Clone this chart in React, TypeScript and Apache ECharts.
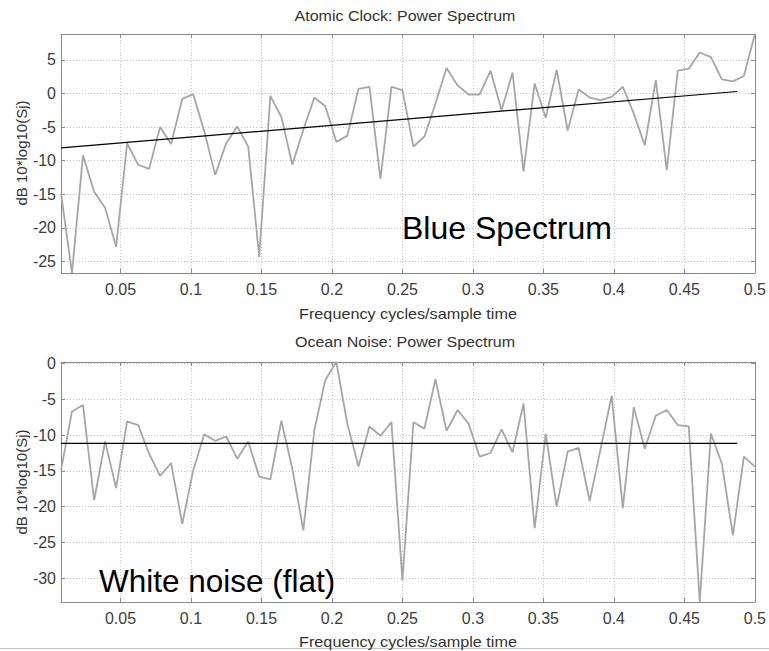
import React, { useEffect, useRef } from "react";
import * as echarts from "echarts";

// Frequency grid (cycles / sample time)
const freqs = [
  0.0078, 0.0156, 0.0234, 0.0313, 0.0391, 0.0469, 0.0547, 0.0625,
  0.0703, 0.0781, 0.0859, 0.0938, 0.1016, 0.1094, 0.1172, 0.125,
  0.1328, 0.1406, 0.1484, 0.1563, 0.1641, 0.1719, 0.1797, 0.1875,
  0.1953, 0.2031, 0.2109, 0.2188, 0.2266, 0.2344, 0.2422, 0.25,
  0.2578, 0.2656, 0.2734, 0.2813, 0.2891, 0.2969, 0.3047, 0.3125,
  0.3203, 0.3281, 0.3359, 0.3438, 0.3516, 0.3594, 0.3672, 0.375,
  0.3828, 0.3906, 0.3984, 0.4063, 0.4141, 0.4219, 0.4297, 0.4375,
  0.4453, 0.4531, 0.4609, 0.4688, 0.4766, 0.4844, 0.4922, 0.5,
];

// Atomic clock power spectrum (dB)
const atomicDb = [
  -14.9, -26.7, -9.2, -14.6, -17.0, -22.8, -7.4, -10.6,
  -11.2, -5.0, -7.5, -0.8, -0.1, -5.6, -12.1, -7.4,
  -4.9, -7.9, -24.3, -0.35, -3.5, -10.6, -5.4, -0.6,
  -1.9, -7.2, -6.3, 0.7, 1.0, -12.7, 1.0, 0.5,
  -7.9, -6.4, -1.5, 3.8, 1.2, -0.15, -0.15, 3.4,
  -2.5, 3.1, -11.6, 1.5, -3.6, 3.5, -5.5, 0.6,
  -0.6, -1.0, -0.5, 1.0, -3.0, -7.7, 2.0, -11.4,
  3.4, 3.7, 6.1, 5.4, 2.1, 1.8, 2.6, 8.85,
];

// Ocean noise power spectrum (dB)
const oceanDb = [
  -14.9, -6.7, -5.8, -19.1, -10.9, -17.4, -8.1, -8.6,
  -12.6, -15.7, -13.9, -22.4, -14.9, -9.9, -10.8, -10.2,
  -13.3, -10.9, -15.8, -16.2, -8.0, -14.7, -23.3, -9.3,
  -2.3, 0.2, -8.4, -14.4, -8.8, -10.1, -8.2, -30.3,
  -8.2, -9.1, -2.2, -9.4, -6.5, -8.4, -13.0, -12.5,
  -9.2, -12.4, -5.6, -23.0, -9.8, -20.0, -12.3, -11.8,
  -19.2, -11.9, -4.5, -20.2, -6.1, -11.9, -7.3, -6.5,
  -8.6, -8.8, -33.3, -9.8, -14.0, -24.0, -13.0, -14.4,
];

// Fitted trend lines [freq, dB]
const atomicTrend = [
  [0.0078, -8.1],
  [0.4875, 0.3],
];
const oceanTrend = [
  [0.0078, -11.15],
  [0.4875, -11.15],
];

const xTickStep = 0.05;
const yTickStep = 5;

const titles = ["Atomic Clock: Power Spectrum", "Ocean Noise: Power Spectrum"];
const xName = "Frequency cycles/sample time";
const yName = "dB 10*log10(Sj)";
const notes = ["Blue Spectrum", "White noise (flat)"];

const FONT = "'Liberation Sans', Arial, Helvetica, sans-serif";
const FRAME = "#8a8a8a";
const GRIDC = "#c2c2c2";
const LABELC = "#3c3c3c";

function stepFormatter(step: number, digits: number) {
  return (v: number) => {
    const r = v / step;
    if (Math.abs(r - Math.round(r)) > 1e-6) return "";
    return String(parseFloat(v.toFixed(digits)));
  };
}

export default function App() {
  const ref = useRef<HTMLDivElement>(null);

  useEffect(() => {
    document.body.style.margin = "0";
    const chart = echarts.init(ref.current!, null, { renderer: "svg" });

    const yRanges = [
      [Math.min(...atomicDb), Math.max(...atomicDb)],
      [Math.min(...oceanDb), Math.max(...oceanDb)],
    ];

    const xMin = freqs[0];
    const xMax = freqs[freqs.length - 1];

    const makeX = (gi: number, main: boolean) => ({
      type: "value",
      gridIndex: gi,
      position: main ? "bottom" : "top",
      min: xMin,
      max: xMax,
      splitNumber: 10,
      axisLine: { show: true, onZero: false, lineStyle: { color: FRAME, width: 1 } },
      axisTick: { show: true, inside: true, length: 4, lineStyle: { color: FRAME, width: 1 } },
      axisLabel: {
        show: main,
        margin: 8,
        fontSize: 16,
        fontFamily: FONT,
        color: LABELC,
        formatter: stepFormatter(xTickStep, 2),
      },
      splitLine: {
        show: main,
        lineStyle: { color: GRIDC, width: 1, type: [1, 2] },
      },
    });

    const makeY = (gi: number, main: boolean) => ({
      type: "value",
      gridIndex: gi,
      position: main ? "left" : "right",
      min: yRanges[gi][0],
      max: yRanges[gi][1],
      splitNumber: 7,
      axisLine: { show: true, onZero: false, lineStyle: { color: FRAME, width: 1 } },
      axisTick: { show: true, inside: true, length: 4, lineStyle: { color: FRAME, width: 1 } },
      axisLabel: {
        show: main,
        margin: 5,
        fontSize: 16,
        fontFamily: FONT,
        color: LABELC,
        formatter: stepFormatter(yTickStep, 0),
      },
      splitLine: {
        show: main,
        lineStyle: { color: GRIDC, width: 1, type: [1, 2] },
      },
    });

    const spectrumSeries = (gi: number, vals: number[]) => ({
      type: "line",
      xAxisIndex: gi,
      yAxisIndex: gi,
      data: freqs.map((f, i) => [f, vals[i]]),
      symbol: "none",
      showSymbol: false,
      silent: true,
      lineStyle: { color: "#a6a6a6", width: 1.8 },
      z: 3,
    });

    const trendSeries = (gi: number, pts: number[][]) => ({
      type: "line",
      xAxisIndex: gi,
      yAxisIndex: gi,
      data: pts,
      symbol: "none",
      showSymbol: false,
      silent: true,
      lineStyle: { color: "#000000", width: 1.2 },
      z: 4,
    });

    const txt = (
      text: string,
      x: number,
      y: number,
      size: number,
      color: string,
      align: string,
      rotation = 0,
      scaleX = 1
    ) => ({
      type: "text",
      x,
      y,
      rotation,
      scaleX,
      silent: true,
      style: {
        text,
        fill: color,
        fontSize: size,
        fontFamily: FONT,
        align,
        verticalAlign: "middle",
      },
      z: 10,
    });

    const option = {
      animation: false,
      backgroundColor: "#ffffff",
      grid: [
        { left: 61, top: 34, width: 695, height: 239, show: false },
        { left: 61, top: 362, width: 695, height: 240, show: false },
      ],
      xAxis: [makeX(0, true), makeX(1, true), makeX(0, false), makeX(1, false)],
      yAxis: [makeY(0, true), makeY(1, true), makeY(0, false), makeY(1, false)],
      series: [
        spectrumSeries(0, atomicDb),
        trendSeries(0, atomicTrend),
        spectrumSeries(1, oceanDb),
        trendSeries(1, oceanTrend),
      ],
      graphic: [
        txt(titles[0], 405, 15.5, 15, "#333333", "center", 0, 1.07),
        txt(xName, 408, 313.5, 15, "#333333", "center", 0, 1.08),
        txt(titles[1], 405, 342, 15, "#333333", "center", 0, 1.07),
        txt(xName, 408, 641.5, 15, "#333333", "center", 0, 1.08),
        txt(yName, 21, 153, 15, "#333333", "center", Math.PI / 2),
        txt(yName, 21, 482, 15, "#333333", "center", Math.PI / 2),
        txt(notes[0], 402, 228, 32, "#000000", "left"),
        txt(notes[1], 99, 580.5, 31.5, "#000000", "left"),
        {
          type: "line",
          silent: true,
          shape: { x1: 0, y1: 648.5, x2: 769, y2: 648.5 },
          style: { stroke: "#c4c4c4", lineWidth: 1 },
        },
      ],
    };

    chart.setOption(option as any);
    return () => chart.dispose();
  }, []);

  return (
    <div
      ref={ref}
      style={{ position: "absolute", left: 0, top: 0, width: 769, height: 651 }}
    />
  );
}
